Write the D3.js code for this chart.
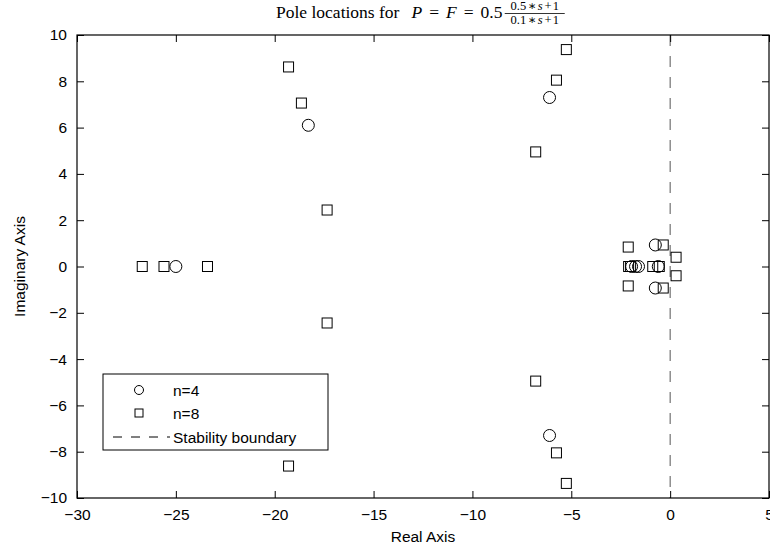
<!DOCTYPE html>
<html><head><meta charset="utf-8">
<script src="https://cdn.jsdelivr.net/npm/d3@7"></script>
<style>body{margin:0;background:#fff}svg{display:block}</style>
</head><body><svg id="c" width="770" height="550"></svg>
<script>
// n=4 poles
const n4Real = [-25, -18.3, -18.3, -6.1, -6.1, -1.95, -1.75, -1.6, -0.75, -0.75, -0.6];
const n4Imag = [0, 6.1, -6.1, 7.3, -7.3, 0, 0, 0, 0.93, -0.93, 0];
// n=8 poles
const n8Real = [-26.7, -25.6, -23.4, -19.3, -19.3, -18.65, -18.65, -17.35, -17.35,
  -6.8, -6.8, -5.75, -5.75, -5.25, -5.25, -2.12, -2.12, -2.1, -2.0,
  -0.88, -0.55, -0.35, -0.35, 0.3, 0.3];
const n8Imag = [0, 0, 0, 8.62, -8.62, 7.06, -7.06, 2.44, -2.44,
  4.95, -4.95, 8.05, -8.05, 9.37, -9.37, 0.84, -0.84, 0, 0,
  0, 0, 0.93, -0.93, 0.4, -0.4];
const xTicks = [-30, -25, -20, -15, -10, -5, 0, 5];
const yTicks = [-10, -8, -6, -4, -2, 0, 2, 4, 6, 8, 10];
const legendLabels = ["n=4", "n=8", "Stability boundary"];

const svg = d3.select("#c");
const L = 77, R = 769, T = 35, B = 498;
const x = d3.scaleLinear().domain([-30, 5]).range([L, R]);
const y = d3.scaleLinear().domain([-10, 10]).range([B, T]);
const font = "'Liberation Sans', Arial, Helvetica, sans-serif";

// stability boundary
svg.append("line").attr("x1", x(0)).attr("x2", x(0)).attr("y1", T).attr("y2", B)
  .attr("stroke", "#555").attr("stroke-width", 1).attr("stroke-dasharray", "11,10");

// axes (ticks inside, mirrored)
const fmt = d3.format("d");
const axB = d3.axisBottom(x).tickValues(xTicks).tickSize(-7).tickPadding(11).tickFormat(fmt);
const axT = d3.axisTop(x).tickValues(xTicks).tickSize(-7).tickFormat("");
const axLf = d3.axisLeft(y).tickValues(yTicks).tickSize(-7).tickPadding(10).tickFormat(fmt);
const axRt = d3.axisRight(y).tickValues(yTicks).tickSize(-7).tickFormat("");
function style(g){
  g.selectAll(".tick line").attr("stroke", "#000").attr("stroke-width", 1);
  g.selectAll("text").attr("font-family", font).attr("font-size", 15.5).attr("fill", "#000");
}
svg.append("g").attr("transform", `translate(0,${B})`).call(axB).call(style);
svg.append("g").attr("transform", `translate(0,${T})`).call(axT).call(style);
svg.append("g").attr("transform", `translate(${L},0)`).call(axLf).call(style);
svg.append("g").attr("transform", `translate(${R},0)`).call(axRt).call(style);
svg.selectAll(".domain").remove();
svg.append("rect").attr("x", L).attr("y", T).attr("width", R - L).attr("height", B - T)
  .attr("fill", "none").attr("stroke", "#000").attr("stroke-width", 1.2);

// markers
const n4 = n4Real.map((r, i) => ({r, im: n4Imag[i]}));
const n8 = n8Real.map((r, i) => ({r, im: n8Imag[i]}));
svg.append("g").selectAll("circle").data(n4).join("circle")
  .attr("cx", d => x(d.r)).attr("cy", d => y(d.im)).attr("r", 6)
  .attr("fill", "none").attr("stroke", "#000").attr("stroke-width", 1);
svg.append("g").selectAll("rect").data(n8).join("rect")
  .attr("x", d => x(d.r) - 5).attr("y", d => y(d.im) - 5).attr("width", 10).attr("height", 10)
  .attr("fill", "none").attr("stroke", "#000").attr("stroke-width", 1);

// axis labels
svg.append("text").attr("x", (L + R) / 2).attr("y", 542).attr("text-anchor", "middle")
  .attr("font-family", font).attr("font-size", 15.5).text("Real Axis");
svg.append("text").attr("transform", `translate(25,${(T + B) / 2}) rotate(-90)`)
  .attr("text-anchor", "middle").attr("font-family", font).attr("font-size", 15.5).text("Imaginary Axis");

// title (LaTeX-like)
const serif = "'Liberation Serif', 'DejaVu Serif', serif";
const tt = svg.append("text").attr("x", 276).attr("y", 18).attr("font-family", serif).attr("font-size", 17.5);
tt.append("tspan").text("Pole locations for");
tt.append("tspan").attr("dx", 12).attr("font-style", "italic").text("P");
tt.append("tspan").attr("dx", 7).text("=");
tt.append("tspan").attr("dx", 7).attr("font-style", "italic").text("F");
tt.append("tspan").attr("dx", 7).text("=");
tt.append("tspan").attr("dx", 7).text("0.5");
const bb = tt.node().getBBox();
const fx = bb.x + bb.width + 2;
function frac(yy, a){
  const t = svg.append("text").attr("x", fx + 30).attr("y", yy).attr("text-anchor", "middle")
    .attr("font-family", serif).attr("font-size", 12.5);
  t.append("tspan").text(a);
  t.append("tspan").attr("dx", 1.5).text("∗");
  t.append("tspan").attr("dx", 1.5).attr("font-style", "italic").text("s");
  t.append("tspan").attr("dx", 2).text("+");
  t.append("tspan").attr("dx", 1).text("1");
}
frac(10, "0.5");
frac(24, "0.1");
svg.append("line").attr("x1", fx).attr("x2", fx + 60).attr("y1", 13.5).attr("y2", 13.5)
  .attr("stroke", "#000").attr("stroke-width", 0.8);

// legend
const lg = svg.append("g");
lg.append("rect").attr("x", 103).attr("y", 374).attr("width", 225).attr("height", 76)
  .attr("fill", "#fff").attr("stroke", "#000").attr("stroke-width", 1);
const rowsY = [390, 413, 437];
lg.append("circle").attr("cx", 139).attr("cy", rowsY[0]).attr("r", 4.5)
  .attr("fill", "none").attr("stroke", "#000");
lg.append("rect").attr("x", 135).attr("y", rowsY[1] - 4).attr("width", 8).attr("height", 8)
  .attr("fill", "none").attr("stroke", "#000");
lg.append("line").attr("x1", 113).attr("x2", 170).attr("y1", rowsY[2]).attr("y2", rowsY[2])
  .attr("stroke", "#000").attr("stroke-dasharray", "9,9");
legendLabels.forEach((t, i) => {
  lg.append("text").attr("x", 173).attr("y", rowsY[i] + 5.5).attr("font-family", font)
    .attr("font-size", 15.5).text(t);
});
</script></body></html>
